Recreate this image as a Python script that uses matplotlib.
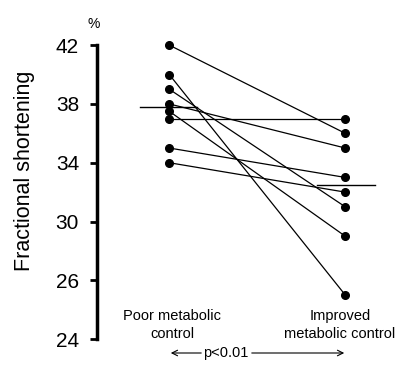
import matplotlib
matplotlib.use("Agg")
import matplotlib.pyplot as plt

# paired fractional shortening (%) for each patient
poor = [42, 40, 39, 38, 37.5, 37, 35, 34]
improved = [36, 25, 31, 35, 29, 37, 33, 32]
mean_poor = 37.8
mean_improved = 32.5

tick_pos = [22, 26, 30, 34, 38, 42]
tick_labels = ["24", "26", "30", "34", "38", "42"]
groups = ["Poor metabolic\ncontrol", "Improved\nmetabolic control"]

plt.rcParams["font.family"] = ["Liberation Sans", "DejaVu Sans"]

fig = plt.figure(figsize=(3.98, 3.76), dpi=100)
ax = fig.add_axes([0.244, 0.098, 0.712, 0.782])

for a, b in zip(poor, improved):
    ax.plot([0, 1], [a, b], "-", color="black", lw=0.9,
            marker="o", ms=5.5, mfc="black", mec="black", clip_on=False)

ax.plot([-0.165, 0.16], [mean_poor, mean_poor], color="black", lw=1.0)
ax.plot([0.84, 1.17], [mean_improved, mean_improved], color="black", lw=1.0)

ax.set_xlim(-0.41, 1.2)
ax.set_ylim(22, 42)
ax.set_yticks(tick_pos)
ax.set_yticklabels(tick_labels, fontsize=15)
ax.set_xticks([])
for s in ("top", "right", "bottom"):
    ax.spines[s].set_visible(False)
ax.spines["left"].set_linewidth(2.5)
ax.tick_params(axis="y", length=5, width=2, pad=8)

fig.text(25 / 398, 1 - 171 / 376, "Fractional shortening", fontsize=15.5,
         rotation=90, ha="center", va="center")
fig.text(94 / 398, 1 - 24 / 376, "%", fontsize=10, ha="center", va="center")

fig.text(172 / 398, 1 - 325 / 376, groups[0], fontsize=10.5, ha="center",
         va="center", linespacing=1.35)
fig.text(340 / 398, 1 - 325 / 376, groups[1], fontsize=10.5, ha="center",
         va="center", linespacing=1.35)

y_arrow = 1 - 353 / 376
fig.text(226 / 398, y_arrow, "p<0.01", fontsize=10.5, ha="center", va="center")
ax.annotate("", xy=(168 / 398, y_arrow), xytext=(204 / 398, y_arrow),
            xycoords="figure fraction",
            arrowprops=dict(arrowstyle="->", lw=0.8, color="black"))
ax.annotate("", xy=(347 / 398, y_arrow), xytext=(249 / 398, y_arrow),
            xycoords="figure fraction",
            arrowprops=dict(arrowstyle="->", lw=0.8, color="black"))

fig.savefig("out.png", dpi=100)
